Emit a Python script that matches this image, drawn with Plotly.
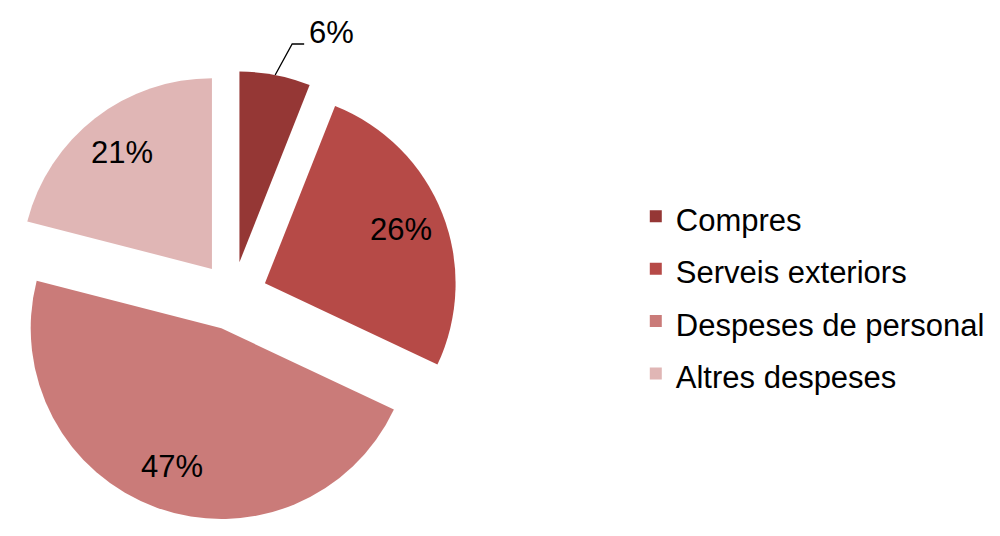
import math
import plotly.graph_objects as go

# ---- data ----
categories = ["Compres", "Serveis exteriors", "Despeses de personal", "Altres despeses"]
values = [6, 26, 47, 21]
colors = ["#953735", "#B64A47", "#CA7B79", "#E0B6B5"]
outside_label = [True, False, False, False]

FONT = "Liberation Sans, Arial, Helvetica, sans-serif"

# ---- pie geometry (figure autosizes to ~984x520 px inside the page) ----
W, H = 984, 520
dom_x = [0, 450 / W]
dom_y = [2 / H, 462 / H]
pull = 0.18

cx = W * (dom_x[0] + dom_x[1]) / 2
cy = H * (1 - (dom_y[0] + dom_y[1]) / 2)
R = min(W * (dom_x[1] - dom_x[0]), H * (dom_y[1] - dom_y[0])) / 2 / (1 + pull)
d = pull * R


def to_paper(px, py):
    return px / W, 1 - py / H


total = sum(values)
annotations = []
shapes = []
cum = 0.0
for cat, v, outside in zip(categories, values, outside_label):
    mid = (cum + v / 2) / total * 2 * math.pi
    cum += v
    ux, uy = math.sin(mid), -math.cos(mid)
    apex_x, apex_y = cx + d * ux, cy + d * uy
    pct = f"{round(v / total * 100)}%"
    if not outside:
        lx, ly = apex_x + 0.77 * R * ux, apex_y + 0.77 * R * uy
        px, py = to_paper(lx, ly)
        annotations.append(dict(x=px, y=py, xref="paper", yref="paper", text=pct,
                                showarrow=False, xanchor="center", yanchor="middle",
                                font=dict(family=FONT, size=31, color="black")))
    else:
        p0 = (apex_x + R * ux, apex_y + R * uy)
        p1 = (p0[0] + 17, p0[1] - 31)
        p2 = (p1[0] + 12, p1[1])
        q0, q1, q2 = to_paper(*p0), to_paper(*p1), to_paper(*p2)
        shapes.append(dict(type="path", xref="paper", yref="paper",
                           path=f"M{q0[0]},{q0[1]} L{q1[0]},{q1[1]} L{q2[0]},{q2[1]}",
                           line=dict(color="black", width=1.3)))
        tx, ty = to_paper(p2[0] + 3, p2[1] - 11)
        annotations.append(dict(x=tx, y=ty, xref="paper", yref="paper", text=pct,
                                showarrow=False, xanchor="left", yanchor="middle",
                                font=dict(family=FONT, size=31, color="black")))

legend_labels = [f'<span style="font-size:31px">{c}</span>' for c in categories]

fig = go.Figure(go.Pie(
    labels=legend_labels,
    values=values,
    sort=False,
    direction="clockwise",
    rotation=0,
    pull=[pull] * len(values),
    marker=dict(colors=colors, line=dict(width=0)),
    textinfo="none",
    domain=dict(x=dom_x, y=dom_y),
    hovertext=categories,
    hoverinfo="text+percent",
))

fig.update_layout(
    margin=dict(l=0, r=0, t=0, b=0),
    paper_bgcolor="white",
    plot_bgcolor="white",
    showlegend=True,
    legend=dict(
        x=0.638, y=0.448, xanchor="left", yanchor="middle",
        font=dict(family=FONT, size=38, color="black"),
        bgcolor="rgba(0,0,0,0)",
    ),
    annotations=annotations,
    shapes=shapes,
)

fig.write_html("out.html")
